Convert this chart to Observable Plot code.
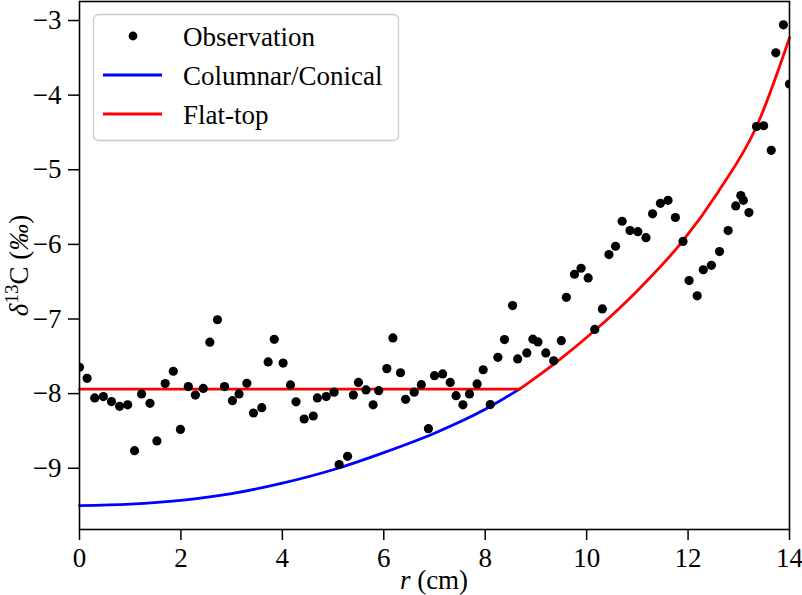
<!DOCTYPE html>
<html><head><meta charset="utf-8">
<script src="https://cdn.jsdelivr.net/npm/d3@7"></script>
<script src="https://cdn.jsdelivr.net/npm/@observablehq/plot@0.6"></script>
<style>body{margin:0;background:#fff;} svg{display:block;} svg text{font-family:'Liberation Serif','Times New Roman','DejaVu Serif',serif !important;}</style>
</head><body><div id="chart"></div>
<script>
// Observations: radius r (cm) and δ13C (‰)
const obsR = [0.00,0.15,0.30,0.47,0.63,0.79,0.95,1.086,1.224,1.39,1.526,1.69,1.85,1.99,2.146,2.285,2.44,2.57,2.72,2.86,3.015,3.146,3.30,3.43,3.594,3.72,3.84,4.015,4.16,4.27,4.43,4.61,4.69,4.864,5.02,5.12,5.286,5.40,5.50,5.65,5.79,5.90,6.06,6.18,6.33,6.43,6.60,6.74,6.88,7.00,7.16,7.31,7.425,7.56,7.69,7.84,7.96,8.10,8.25,8.38,8.54,8.64,8.82,8.94,9.04,9.195,9.35,9.50,9.60,9.76,9.89,10.03,10.16,10.31,10.44,10.57,10.70,10.855,11.01,11.17,11.30,11.455,11.605,11.75,11.90,12.02,12.18,12.30,12.46,12.62,12.79,12.94,13.04,13.09,13.20,13.35,13.49,13.64,13.73,13.88,14.00];
const obsD = [-7.647,-7.795,-8.058,-8.04,-8.107,-8.17,-8.15,-8.764,-8.004,-8.13,-8.634,-7.866,-7.70,-8.48,-7.906,-8.02,-7.93,-7.31,-7.01,-7.906,-8.094,-8.004,-7.862,-8.26,-8.188,-7.575,-7.272,-7.59,-7.883,-8.11,-8.34,-8.30,-8.058,-8.04,-7.98,-8.95,-8.84,-8.02,-7.85,-7.95,-8.15,-7.96,-7.665,-7.253,-7.72,-8.077,-7.98,-7.88,-8.47,-7.76,-7.736,-7.85,-8.027,-8.15,-8.004,-7.87,-7.68,-8.147,-7.513,-7.276,-6.82,-7.535,-7.455,-7.27,-7.307,-7.455,-7.56,-7.29,-6.71,-6.40,-6.32,-6.45,-7.14,-6.865,-6.137,-6.025,-5.69,-5.815,-5.83,-5.91,-5.59,-5.45,-5.41,-5.64,-5.96,-6.485,-6.69,-6.34,-6.28,-6.097,-5.815,-5.484,-5.346,-5.41,-5.574,-4.42,-4.41,-4.74,-3.433,-3.058,-3.85];

// Columnar/Conical model curve
const colR = [0,1,2,3,4,5,6,7,8,8.675];
const colD = [-9.50,-9.48,-9.43,-9.34,-9.20,-9.02,-8.79,-8.53,-8.21,-7.94];

// Flat-top model: flat part and rising part
const flatR = [0, 8.675];
const flatD = [-7.94, -7.94];
const riseR = [8.675, 9.4, 10.16, 11.0, 11.885, 12.6, 13.35, 13.99, 14.0];
const riseD = [-7.94, -7.58, -7.155, -6.62, -5.963, -5.29, -4.42, -3.25, -3.23];

const xTicks = [0,2,4,6,8,10,12,14];
const yTicks = [-9,-8,-7,-6,-5,-4,-3];

const obs = obsR.map((r,i)=>({r, d: obsD[i]}));
const col = colR.map((r,i)=>({r, d: colD[i]}));
const flat = flatR.map((r,i)=>({r, d: flatD[i]}));
const rise = riseR.map((r,i)=>({r, d: riseD[i]}));

const FONT = "'Liberation Serif', 'Times New Roman', 'DejaVu Serif', serif";
const W = 802, H = 595;
const plot = Plot.plot({
  width: W, height: H,
  marginLeft: 79, marginRight: 13, marginTop: 1, marginBottom: 66,
  style: {fontFamily: FONT, fontSize: "27px", background: "white", color: "black"},
  x: {domain: [0, 14]},
  y: {domain: [-9.821, -2.745]},
  marks: [
    Plot.line(col, {x: "r", y: "d", stroke: "#0000ff", strokeWidth: 2.8, curve: "monotone-x"}),
    Plot.line(flat, {x: "r", y: "d", stroke: "#ff0000", strokeWidth: 2.8}),
    Plot.line(rise, {x: "r", y: "d", stroke: "#ff0000", strokeWidth: 2.8, curve: "monotone-x"}),
    Plot.dot(obs, {x: "r", y: "d", r: 4.6, fill: "black", stroke: "none", clip: true}),
    Plot.axisX({ticks: xTicks, tickSize: 11, tickPadding: 7, fontSize: 27, label: null, strokeWidth: 1.5, fill: "black"}),
    Plot.axisY({ticks: yTicks, tickSize: 11, tickPadding: 7, fontSize: 27, label: null, strokeWidth: 1.5, fill: "black"}),
    Plot.frame({stroke: "black", strokeWidth: 1.6})
  ]
});
document.getElementById("chart").appendChild(plot);

const svg = d3.select(plot);
svg.selectAll("text").style("font-family", FONT).style("font-variant", "normal");

// y-axis label
const yl = svg.append("text")
  .attr("transform", "translate(28,265.5) rotate(-90)")
  .attr("text-anchor", "middle")
  .style("font-family", FONT).attr("font-size", 27).attr("fill", "black");
yl.append("tspan").attr("font-style", "italic").text("δ");
yl.append("tspan").attr("font-size", 19).attr("dy", -10).text("13");
yl.append("tspan").attr("dy", 10).text("C (");
yl.append("tspan").attr("font-style", "italic").text("‰");
yl.append("tspan").text(")");

// x-axis label
const xl = svg.append("text")
  .attr("x", 434).attr("y", 589)
  .attr("text-anchor", "middle")
  .style("font-family", FONT).attr("font-size", 27).attr("fill", "black");
xl.append("tspan").attr("font-style", "italic").text("r");
xl.append("tspan").text(" (cm)");

// legend
const lg = svg.append("g").style("font-family", FONT).attr("font-size", 27).attr("text-anchor", "start");
lg.append("rect").attr("x", 93.5).attr("y", 14.5).attr("width", 305).attr("height", 126)
  .attr("rx", 5).attr("fill", "white").attr("fill-opacity", 0.85)
  .attr("stroke", "#cccccc").attr("stroke-width", 1.3);
lg.append("circle").attr("cx", 133).attr("cy", 36).attr("r", 4.4).attr("fill", "black");
lg.append("line").attr("x1", 103).attr("x2", 162).attr("y1", 75).attr("y2", 75)
  .attr("stroke", "#0000ff").attr("stroke-width", 2.8);
lg.append("line").attr("x1", 103).attr("x2", 162).attr("y1", 114).attr("y2", 114)
  .attr("stroke", "#ff0000").attr("stroke-width", 2.8);
const labels = ["Observation", "Columnar/Conical", "Flat-top"];
const baselines = [45.5, 84.5, 123.5];
labels.forEach((t,i)=>{
  lg.append("text").attr("x", 183).attr("y", baselines[i]).attr("text-anchor", "start").attr("fill", "black").text(t);
});
</script>
</body></html>
